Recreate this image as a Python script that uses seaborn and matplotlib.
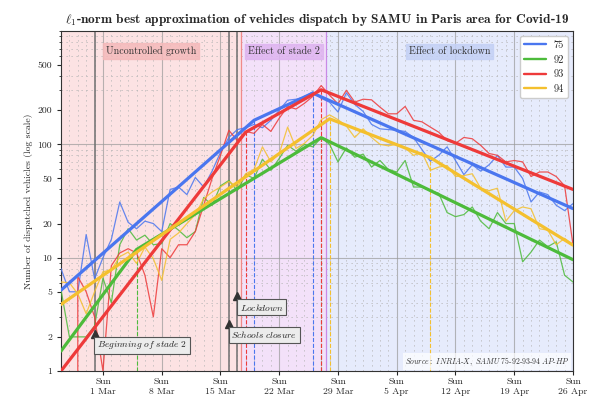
import numpy as np
import pandas as pd
import matplotlib
matplotlib.use("Agg")
import matplotlib.pyplot as plt
import matplotlib.dates as mdates
from matplotlib.ticker import FixedLocator, LogLocator, NullFormatter
import seaborn as sns

# ---------------- data ----------------
start_date = "2020-02-25"
n_days = 62
departments = ["75", "92", "93", "94"]
dept_colors = ["#4a76ef", "#4dbb3b", "#ee3a3a", "#f4c02e"]

vehicles_75 = [8, 5, 5, 16, 6.5, 10, 14.5, 31, 20.5, 18, 21, 20, 17, 40, 42, 36, 51, 42,
               58, 85, 115, 135, 140, 150, 140, 163, 200, 245, 250, 262, 290, 255, 235,
               193, 285, 225, 195, 150, 137, 135, 133, 130, 115, 90, 71, 80, 95, 72, 54,
               66, 58, 66, 80, 63, 63, 50, 31, 38, 36, 29, 26, 30]
vehicles_92 = [5.2, 2, 2, 2, 2.5, 6.6, 4, 13, 18, 14.3, 15.8, 13, 13.3, 20, 17.5, 15, 17,
               34, 29, 43, 48, 39, 54, 50, 74, 59, 75, 98, 87, 100, 95, 114, 100, 70, 93,
               77, 82, 63, 72, 60, 57, 72, 42, 42, 39, 37, 25, 23, 24, 28, 21, 18, 25, 20,
               20, 9.2, 11.2, 14.3, 12.5, 13.8, 7, 6.1]
vehicles_93 = [0, 0, 6.8, 5, 3, 1, 8.5, 11, 12, 11, 7, 3, 12, 10, 13, 13, 17, 29, 50, 80,
               133, 108, 130, 125, 150, 130, 170, 215, 205, 230, 265, 330, 271, 228, 300,
               236, 250, 247, 213, 186, 186, 216, 163, 158, 142, 128, 108, 102, 115, 112,
               98, 83, 80, 70, 72, 70, 52, 57, 57, 52, 43, 13]
vehicles_94 = [6.1, 6, 4.8, 3.2, 5, 7.5, 7.8, 10.2, 11.2, 8.9, 12.4, 9.8, 6.3, 14.5, 16.5,
               20, 24, 33, 38, 42, 47, 42, 55, 60, 95, 70, 83, 142, 92, 102, 120, 165, 182,
               165, 145, 115, 137, 115, 100, 97, 100, 93, 80, 85, 59, 63, 65, 52, 53, 55,
               41, 39, 41, 21, 26, 28, 27, 18, 17.5, 13, 14.8, 13]

# l1 best piecewise approximation: breakpoints (days since start) and values
fit_days_75 = [0, 23, 30, 61]
fit_values_75 = [5.17, 163, 283, 27.1]
fit_days_92 = [0, 9, 31, 61]
fit_values_92 = [1.5, 11.8, 114.5, 9.6]
fit_days_93 = [0, 22, 31, 61]
fit_values_93 = [1.0, 128, 303, 40]
fit_days_94 = [0, 32, 44, 61]
fit_values_94 = [3.87, 168, 76.3, 12.9]

events = ["Beginning of stade 2", "Schools closure", "Lockdown"]
event_dates = ["2020-02-29", "2020-03-16", "2020-03-17"]

phases = ["Uncontrolled growth", "Effect of stade 2", "Effect of lockdown"]
phase_starts = ["2020-02-25 00:00", "2020-03-17 12:00", "2020-03-27 14:00"]
phase_ends = ["2020-03-17 12:00", "2020-03-27 14:00", "2020-04-26 00:00"]

y_ticks = [1, 2, 5, 10, 20, 50, 100, 200, 500]
title = r"$\ell_1$-norm best approximation of vehicles dispatch by SAMU in Paris area for Covid-19"
ylabel = "Number of dispatched vehicles (log scale)"
source = "Source: INRIA-X, SAMU 75-92-93-94 AP-HP"


def italic(text):
    """Italic mathtext, keeping hyphens as plain text hyphens."""
    parts = text.split("-")
    return "-".join(r"$\mathit{" + p.replace(" ", r"\ ") + "}$" for p in parts)


# ---------------- frames ----------------
dates = pd.date_range(start_date, periods=n_days, freq="D")
raw_series = [vehicles_75, vehicles_92, vehicles_93, vehicles_94]
fit_days = [fit_days_75, fit_days_92, fit_days_93, fit_days_94]
fit_values = [fit_values_75, fit_values_92, fit_values_93, fit_values_94]

raw_df = pd.DataFrame({
    "date": np.tile(dates, len(departments)),
    "dept": np.repeat(departments, n_days),
    "vehicles": np.concatenate([np.asarray(s, float) for s in raw_series]),
})
fit_df = pd.concat([
    pd.DataFrame({"date": dates[fd], "dept": dep, "vehicles": fv})
    for dep, fd, fv in zip(departments, fit_days, fit_values)
], ignore_index=True)

# ---------------- style ----------------
sns.set_style("ticks")
plt.rcParams["font.family"] = ["cmr10", "DejaVu Serif"]
plt.rcParams["mathtext.fontset"] = "cm"
plt.rcParams["axes.formatter.use_mathtext"] = True
plt.rcParams["axes.unicode_minus"] = False

fig = plt.figure(figsize=(5.96, 3.98), dpi=100)
ax = fig.add_axes([61 / 596, 1 - 371 / 398, 512 / 596, 340 / 398])

phase_face = ["#fce2e3", "#f3e1f9", "#e6ebfc"]
phase_box = ["#f4b9ba", "#deb4f0", "#c3d0f5"]
phase_edge = ["#f08a8a", "#c98ae6", None]
for i, (p, s, e) in enumerate(zip(phases, phase_starts, phase_ends)):
    s, e = pd.Timestamp(s), pd.Timestamp(e)
    ax.axvspan(s, e, color=phase_face[i], zorder=0, lw=0)
    if phase_edge[i]:
        ax.axvline(e, color=phase_edge[i], lw=0.9, zorder=1)
    mid = s + (e - s) / 2
    ax.text(mid, 0.94, p, transform=ax.get_xaxis_transform(), ha="center", va="center",
            fontsize=7.2, color="#333333", zorder=6,
            bbox=dict(boxstyle="square,pad=0.3", fc=phase_box[i], ec=phase_box[i], alpha=0.85))

palette = dict(zip(departments, dept_colors))
sns.lineplot(data=raw_df, x="date", y="vehicles", hue="dept", palette=palette,
             estimator=None, sort=False, lw=0.9, alpha=0.85, legend=False, ax=ax, zorder=3)
sns.lineplot(data=fit_df, x="date", y="vehicles", hue="dept", palette=palette,
             estimator=None, sort=False, lw=2.3, legend=True, ax=ax, zorder=4)

for dep, fd, fv in zip(departments, fit_days, fit_values):
    ax.vlines(dates[fd[1:-1]], 1, fv[1:-1], colors=palette[dep], linestyles="dashed",
              lw=0.8, zorder=2)

ax.set_yscale("log")
ax.set_xlim(dates[0], dates[-1])
ax.set_ylim(1, 1000)

for ev_date in event_dates:
    ax.axvline(pd.Timestamp(ev_date), color="#6f6f6f", lw=1.1, zorder=2)

tri_vals = [2.13, 2.6, 4.58]
txt_vals = [1.69, 2.08, 3.66]
for ev, ev_date, tv, yv in zip(events, event_dates, tri_vals, txt_vals):
    d = pd.Timestamp(ev_date)
    ax.plot([d], [tv], marker="^", ms=5.5, color="#333333", zorder=7, clip_on=False)
    ax.annotate(italic(ev), xy=(d, yv), xytext=(1.8, 0),
                textcoords="offset points", ha="left", va="center", fontsize=6.8,
                color="#222222", zorder=7,
                bbox=dict(boxstyle="square,pad=0.28", fc="#ececec", ec="#555555", lw=0.8))

ax.text(0.993, 0.01, italic(source), transform=ax.transAxes,
        ha="right", va="bottom", fontsize=5.6, color="#333333", zorder=7,
        bbox=dict(boxstyle="square,pad=0.25", fc="white", ec="none", alpha=0.7))

# ticks & grid
sundays = pd.date_range("2020-03-01", dates[-1], freq="7D")
ax.xaxis.set_major_locator(FixedLocator(mdates.date2num(sundays)))
ax.set_xticklabels([f"Sun\n{d.day} {d.strftime('%b')}" for d in sundays])
ax.xaxis.set_minor_locator(mdates.DayLocator())
ax.yaxis.set_major_locator(FixedLocator(y_ticks))
ax.set_yticklabels([str(t) for t in y_ticks])
ax.yaxis.set_minor_locator(LogLocator(base=10, subs=np.arange(1, 10)))
ax.yaxis.set_minor_formatter(NullFormatter())

ax.grid(axis="x", which="major", color="#9a9a9a", lw=0.8, alpha=0.7, zorder=1)
ax.grid(axis="x", which="minor", color="#b5b5b5", lw=0.6, ls=(0, (1.5, 4.5)), zorder=1)
ax.grid(axis="y", which="minor", color="#b5b5b5", lw=0.6, ls=(0, (1.5, 4.5)), zorder=1)
ax.grid(axis="y", which="major", visible=False)
for dec in [10, 100]:
    ax.axhline(dec, color="#9a9a9a", lw=0.8, alpha=0.7, zorder=1)
ax.set_axisbelow(True)

ax.tick_params(axis="x", which="major", labelsize=7, length=3, pad=2)
ax.tick_params(axis="x", which="minor", length=0)
ax.tick_params(axis="y", which="major", labelsize=7, length=3)
ax.tick_params(axis="y", which="minor", length=1.8)
for sp in ax.spines.values():
    sp.set_color("#333333")
    sp.set_linewidth(0.8)

ax.set_xlabel("")
ax.set_ylabel(ylabel, fontsize=7, labelpad=3)
ax.set_title(title, fontsize=9.6, fontfamily="cmb10", pad=6)

leg = ax.legend(loc="upper right", fontsize=7.5, frameon=True, handlelength=2.1,
                handletextpad=0.7, borderaxespad=0.5, fancybox=True,
                edgecolor="#cccccc", framealpha=1)
for h in leg.get_lines():
    h.set_linewidth(1.7)
leg.set_zorder(8)

fig.savefig("out.png", dpi=100)
